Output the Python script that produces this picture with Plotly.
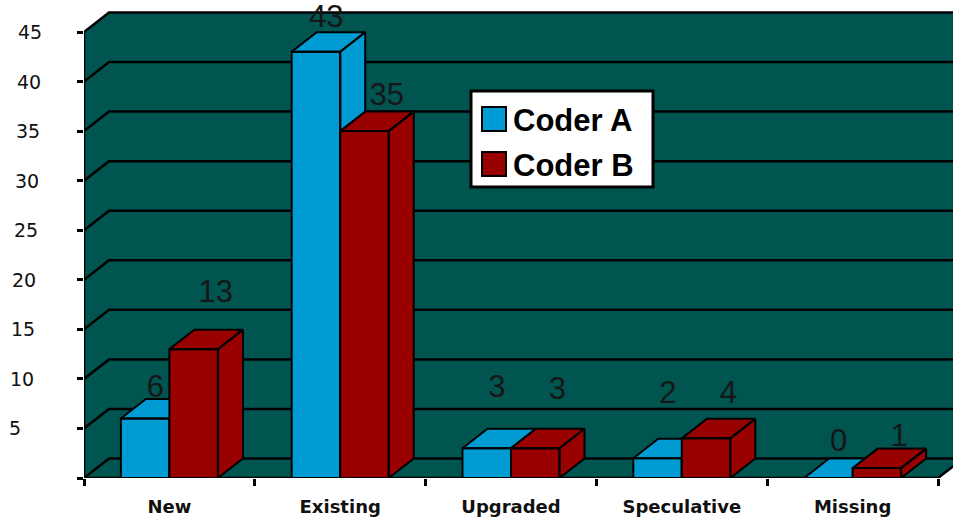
import plotly.graph_objects as go

# ---- data -------------------------------------------------------------
CATEGORIES = ["New", "Existing", "Upgraded", "Speculative", "Missing"]
CODER_A = [6, 43, 3, 2, 0]
CODER_B = [13, 35, 3, 4, 1]
Y_TICKS = [0, 5, 10, 15, 20, 25, 30, 35, 40, 45]
SERIES_NAMES = ["Coder A", "Coder B"]

# ---- style ------------------------------------------------------------
TEAL = "#005551"
BLUE = "#009bd3"
RED = "#990000"
INK = "#111111"

W_PX, H_PX = 953, 518
ML, MR, MT, MB = 84, 0, 8, 40
PX_PER_CAT = 170.8
PX_PER_UNIT = 9.911
X_RANGE = [-0.5, -0.5 + (W_PX - ML - MR) / PX_PER_CAT]
Y_RANGE = [0, (H_PX - MT - MB) / PX_PER_UNIT]
Y_TOP = 45

# oblique depth of the 3-D box (in axis units)
DX = 25 / PX_PER_CAT
DY = 19.5 / PX_PER_UNIT
BAR_W = 0.284

# vertical lift of the value labels above each bar (axis units)
LIFT_A = [2.95, 3.3, 5.95, 6.35, 3.55]
LIFT_B = [5.55, 3.45, 5.75, 4.35, 3.05]
LABEL_DX = [0.06, 0.13]

fig = go.Figure()

n = len(CATEGORIES)
x_far = X_RANGE[1] + 1

# walls and floor
fig.add_trace(go.Scatter(
    x=[-0.5, -0.5, -0.5 + DX, x_far, x_far, n - 0.5 + DX, n - 0.5],
    y=[0, Y_TOP, Y_TOP + DY, Y_TOP + DY, DY, DY, 0],
    fill="toself", fillcolor=TEAL, mode="lines", line=dict(width=0),
    hoverinfo="skip"))

# grid lines: side-wall diagonals running onto the back wall
gx, gy = [], []
for v in Y_TICKS:
    gx += [-0.5, -0.5 + DX, x_far, None]
    gy += [v, v + DY, v + DY, None]
gx += [-0.5, -0.5, None, -0.5, n - 0.5, n - 0.5 + DX, None]
gy += [0, Y_TOP, None, 0, 0, DY, None]
fig.add_trace(go.Scatter(x=gx, y=gy, mode="lines",
                         line=dict(color="black", width=2.5),
                         hoverinfo="skip"))


def box_faces(x0, x1, h):
    xs = [x0, x1, x1, x0, x0, None,
          x0, x1, x1 + DX, x0 + DX, x0, None,
          x1, x1 + DX, x1 + DX, x1, x1]
    ys = [0, 0, h, h, 0, None,
          h, h, h + DY, h + DY, h, None,
          0, DY, h + DY, h, 0]
    return xs, ys


# bars, painted left to right so nearer faces overlap correctly
for i in range(n):
    for s, (vals, color) in enumerate([(CODER_A, BLUE), (CODER_B, RED)]):
        x0 = i - BAR_W if s == 0 else i
        xs, ys = box_faces(x0, x0 + BAR_W, vals[i])
        fig.add_trace(go.Scatter(x=xs, y=ys, fill="toself", fillcolor=color,
                                 mode="lines",
                                 line=dict(color="black", width=2),
                                 hoverinfo="skip"))

# value labels
for s, (vals, lift) in enumerate([(CODER_A, LIFT_A), (CODER_B, LIFT_B)]):
    xs = [(i - BAR_W if s == 0 else i) + BAR_W / 2 + LABEL_DX[s] for i in range(n)]
    ys = [v + l for v, l in zip(vals, lift)]
    fig.add_trace(go.Scatter(
        x=xs, y=ys, mode="text", text=[str(v) for v in vals],
        textposition="middle center", cliponaxis=False,
        textfont=dict(family="Liberation Sans, Arial", size=31, color="#161616"),
        hoverinfo="skip"))

# y tick labels, stepping slightly leftwards toward the bottom
for v in Y_TICKS[1:]:
    left_px = 7 + (v - 5) * 9 / 40
    fig.add_annotation(
        x=(left_px - ML) / (W_PX - ML - MR), xref="paper", xanchor="left",
        y=v, yref="y", yanchor="middle", text=str(v), showarrow=False,
        font=dict(family="DejaVu Sans", size=19, color=INK))

# legend box


def px_x(p):
    return (p - ML) / (W_PX - ML - MR)


def px_y(p):
    return (H_PX - MB - p) / (H_PX - MT - MB)


fig.add_shape(type="rect", xref="paper", yref="paper",
              x0=px_x(471), x1=px_x(653), y0=px_y(187), y1=px_y(91),
              fillcolor="white", line=dict(color="black", width=3))
for k, (name, color) in enumerate(zip(SERIES_NAMES, [BLUE, RED])):
    top = 107 + k * 45
    fig.add_shape(type="rect", xref="paper", yref="paper",
                  x0=px_x(482), x1=px_x(506), y0=px_y(top + 24), y1=px_y(top),
                  fillcolor=color, line=dict(color="black", width=2))
    fig.add_annotation(x=px_x(511), xref="paper", xanchor="left",
                       y=px_y(top + 13), yref="paper", yanchor="middle",
                       text=name, showarrow=False,
                       font=dict(family="Liberation Sans, Arial", size=31,
                                 color="black", weight="bold"))

fig.update_layout(
    width=W_PX, height=H_PX,
    margin=dict(l=ML, r=MR, t=MT, b=MB, pad=0),
    paper_bgcolor="white", plot_bgcolor="white",
    showlegend=False, hovermode=False,
    xaxis=dict(range=X_RANGE, showgrid=False, zeroline=False, showline=False,
               tickmode="array", tickvals=list(range(n)), ticktext=CATEGORIES,
               ticks="", ticklabelstandoff=16,
               tickfont=dict(family="DejaVu Sans", size=18, color=INK,
                             weight="bold"),
               minor=dict(tickmode="array",
                          tickvals=[i - 0.5 for i in range(n + 1)],
                          ticks="outside", ticklen=7, tickwidth=2.5,
                          tickcolor="black"),
               fixedrange=True),
    yaxis=dict(range=Y_RANGE, showgrid=False, zeroline=False, showline=False,
               tickmode="array", tickvals=Y_TICKS, ticks="outside",
               ticklen=6, tickwidth=2.5, tickcolor="black",
               showticklabels=False, fixedrange=True),
)

fig.write_html("out.html")
